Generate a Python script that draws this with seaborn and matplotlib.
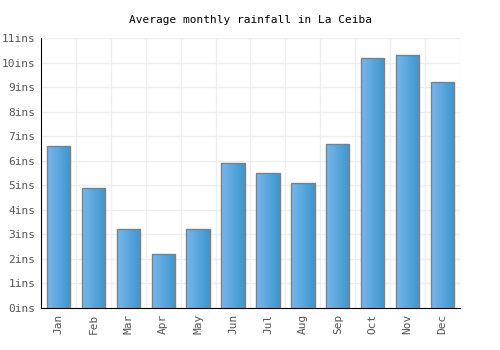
import numpy as np
import pandas as pd
import matplotlib
matplotlib.use("Agg")
import matplotlib.pyplot as plt
from matplotlib.colors import LinearSegmentedColormap
import seaborn as sns

months = ["Jan", "Feb", "Mar", "Apr", "May", "Jun", "Jul", "Aug", "Sep", "Oct", "Nov", "Dec"]
rainfall = [6.6, 4.9, 3.2, 2.2, 3.2, 5.9, 5.5, 5.1, 6.7, 10.2, 10.3, 9.2]
yticks = list(range(0, 12))
ylabels = [f"{v}ins" for v in yticks]

df = pd.DataFrame({"month": months, "rain": rainfall})

sns.set_style("white")
plt.rcParams['font.family'] = ['DejaVu Sans Mono']

fig = plt.figure(figsize=(5, 3.5), dpi=100)
ax = fig.add_axes([0.082, 0.12, 0.838, 0.771])

sns.barplot(data=df, x="month", y="rain", color="#4a9fdc", width=0.67,
            edgecolor="#808080", linewidth=1, ax=ax, zorder=3)

# gradient fill inside each bar
cmap = LinearSegmentedColormap.from_list("bar", ["#78b6ea", "#3b96cf"])
grad = np.linspace(0, 1, 64).reshape(1, -1)
for p in ax.patches:
    x0, y0 = p.get_x(), p.get_y()
    w, h = p.get_width(), p.get_height()
    im = ax.imshow(grad, cmap=cmap, aspect="auto", extent=[x0, x0 + w, y0, y0 + h],
                   zorder=3.5, interpolation="bilinear")
    im.set_clip_path(p)
    p.set_facecolor("none")
    p.set_zorder(4)

ax.set_xlim(-0.5, 11.5)
ax.set_ylim(0, 11)
ax.set_yticks(yticks)
ax.set_yticklabels(ylabels)
ax.set_xticks(range(12))
ax.set_xticklabels(months, rotation=90)
ax.set_xticks(np.arange(0.5, 12, 1), minor=True)
ax.tick_params(axis="both", which="both", length=0, labelsize=8, colors="#555555", pad=4)
ax.grid(True, axis="y", color="#eeeeee", linewidth=1, zorder=0)
ax.grid(True, axis="x", which="minor", color="#eeeeee", linewidth=1, zorder=0)
ax.set_axisbelow(True)
ax.set_xlabel("")
ax.set_ylabel("")
for s in ["top", "right"]:
    ax.spines[s].set_visible(False)
ax.spines["left"].set_color("black")
ax.spines["bottom"].set_color("black")
ax.set_title("Average monthly rainfall in La Ceiba", fontsize=8, color="black", pad=11)

fig.savefig("out.png", dpi=100)
